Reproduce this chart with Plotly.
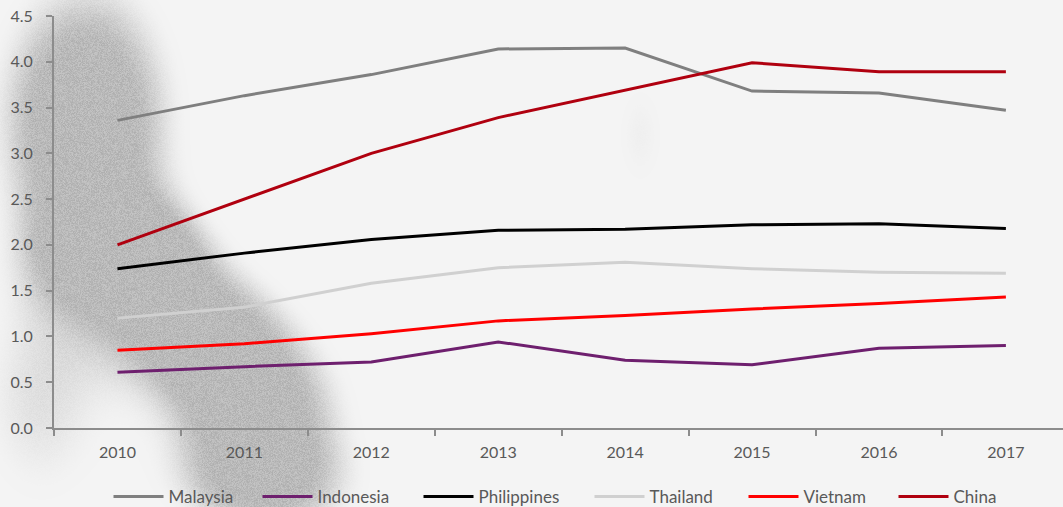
import base64
import struct
import zlib

import numpy as np
import plotly.graph_objects as go

years = ["2010", "2011", "2012", "2013", "2014", "2015", "2016", "2017"]
malaysia = [3.36, 3.63, 3.86, 4.14, 4.15, 3.68, 3.66, 3.47]
indonesia = [0.61, 0.67, 0.72, 0.94, 0.74, 0.69, 0.87, 0.90]
philippines = [1.74, 1.91, 2.06, 2.16, 2.17, 2.22, 2.23, 2.18]
thailand = [1.20, 1.32, 1.58, 1.75, 1.81, 1.74, 1.70, 1.69]
vietnam = [0.85, 0.92, 1.03, 1.17, 1.23, 1.30, 1.36, 1.43]
china = [2.00, 2.50, 3.00, 3.39, 3.69, 3.99, 3.89, 3.89]

series = [
    ("Malaysia", malaysia, "#7f7f7f", 84),
    ("Indonesia", indonesia, "#6e1f6e", 96),
    ("Philippines", philippines, "#000000", 106),
    ("Thailand", thailand, "#d0d0d0", 89),
    ("Vietnam", vietnam, "#ff0000", 85),
    ("China", china, "#b0000f", 50),
]

W, H = 1063, 507
ML, MR, MT, MB = 54, 0, 16, 79
PW, PH = W - ML - MR, H - MT - MB

# ---- decorative background texture (soft grey smudge), built as a PNG ----
blobs = [  # cx, cy, sx, sy, strength (page pixels)
    (85, 120, 60, 95, 1.0),
    (125, 255, 55, 40, 0.95),
    (195, 330, 60, 45, 0.8),
    (255, 405, 60, 50, 0.8),
    (265, 485, 65, 40, 0.65),
    (40, 400, 55, 90, 0.4),
    (640, 135, 25, 55, 0.3),
]
yy, xx = np.mgrid[0:H, 0:W].astype(float)
m = np.zeros((H, W))
for cx, cy, sx, sy, s in blobs:
    m += s * np.exp(-(((xx - cx) / sx) ** 2 + ((yy - cy) / sy) ** 2) / 2)
t = np.clip((m - 0.22) / 0.5, 0, 1)
t = t * t * (3 - 2 * t)
grain = np.modf(np.abs(np.sin(xx * 12.9898 + yy * 78.233) * 43758.5453))[0]
gray = 244 - 58 * t * (0.8 + 0.4 * grain)
img = np.clip(gray, 0, 255).astype(np.uint8)


def png_bytes(a):
    raw = b"".join(b"\x00" + a[r].tobytes() for r in range(a.shape[0]))

    def chunk(tag, data):
        c = struct.pack(">I", len(data)) + tag + data
        return c + struct.pack(">I", zlib.crc32(tag + data) & 0xFFFFFFFF)

    hdr = struct.pack(">IIBBBBB", a.shape[1], a.shape[0], 8, 0, 0, 0, 0)
    return (b"\x89PNG\r\n\x1a\n" + chunk(b"IHDR", hdr)
            + chunk(b"IDAT", zlib.compress(raw, 9)) + chunk(b"IEND", b""))


bg_src = "data:image/png;base64," + base64.b64encode(png_bytes(img)).decode()

fig = go.Figure()
for name, vals, color, lw in series:
    fig.add_trace(go.Scatter(x=years, y=vals, name=name, mode="lines",
                             line=dict(color=color, width=3), legendwidth=lw))

fig.add_layout_image(dict(source=bg_src, xref="paper", yref="paper",
                          x=-ML / PW, y=1 + MT / PH, sizex=W / PW, sizey=H / PH,
                          xanchor="left", yanchor="top", sizing="stretch",
                          layer="below"))

font = dict(family="Lato, sans-serif", size=16, color="#595959")
legfont = dict(family="Lato, sans-serif", size=17, color="#595959")
fig.update_layout(
    width=W, height=H,
    margin=dict(l=ML, r=MR, t=MT, b=MB),
    paper_bgcolor="#f4f4f4", plot_bgcolor="rgba(0,0,0,0)",
    font=font,
    showlegend=True,
    legend=dict(orientation="h", x=0.5, xanchor="center", yref="container",
                y=1 - 497 / H, yanchor="middle",
                font=legfont, bgcolor="rgba(0,0,0,0)", itemwidth=50),
    xaxis=dict(type="category", range=[-0.5, 7.45], showgrid=False, zeroline=False,
               showline=True, linecolor="#8c8c8c", linewidth=2,
               ticks="outside", tickson="boundaries", ticklen=6, tickwidth=2,
               tickcolor="#8c8c8c", tickfont=font, ticklabelstandoff=9),
    yaxis=dict(range=[0, 4.5], dtick=0.5, tickformat=".1f", showgrid=False, zeroline=False,
               showline=True, linecolor="#8c8c8c", linewidth=2,
               ticks="outside", ticklen=6, tickwidth=2, tickcolor="#8c8c8c",
               tickfont=font, ticklabelstandoff=10),
)

fig.write_html("out.html", config={"displayModeBar": False},
               post_script="document.body.style.margin='0';")
